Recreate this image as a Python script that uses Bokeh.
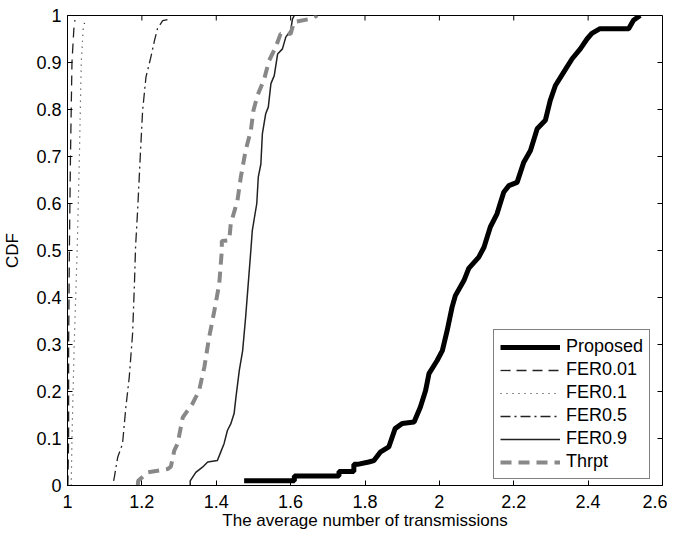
from bokeh.plotting import figure
from bokeh.models import (FixedTicker, Range1d, Legend, LegendItem,
                          NumeralTickFormatter)
from bokeh.embed import file_html
from bokeh.resources import INLINE

# ---------------- data ----------------
prop_x = [1.475, 1.61, 1.61, 1.73, 1.73, 1.77, 1.77, 1.78, 1.81, 1.824, 1.841, 1.864,
          1.881, 1.90, 1.932, 1.949, 1.963, 1.972, 1.994, 2.008, 2.021, 2.034, 2.043,
          2.066, 2.079, 2.106, 2.12, 2.137, 2.155, 2.173, 2.187, 2.209, 2.227, 2.245,
          2.263, 2.285, 2.298, 2.312, 2.334, 2.357, 2.379, 2.397, 2.41, 2.432, 2.509,
          2.522, 2.54]
prop_y = [0.01, 0.01, 0.02, 0.02, 0.03, 0.03, 0.045, 0.045, 0.05, 0.053, 0.071, 0.082,
          0.121, 0.132, 0.135, 0.167, 0.202, 0.238, 0.266, 0.287, 0.33, 0.379, 0.404,
          0.436, 0.462, 0.486, 0.507, 0.55, 0.578, 0.624, 0.638, 0.645, 0.688, 0.713,
          0.759, 0.777, 0.819, 0.851, 0.879, 0.908, 0.929, 0.95, 0.962, 0.972, 0.972,
          0.99, 1.0]

fer001_x = [1.001, 1.003, 1.003, 1.005, 1.008, 1.012, 1.017, 1.02]
fer001_y = [0.0, 0.1, 0.3, 0.5, 0.7, 0.9, 0.97, 0.99]

fer01_x = [1.01, 1.012, 1.018, 1.026, 1.032, 1.037, 1.042, 1.047]
fer01_y = [0.0, 0.1, 0.3, 0.5, 0.7, 0.9, 0.97, 0.99]

fer05_x = [1.124, 1.126, 1.135, 1.148, 1.157, 1.166, 1.175, 1.18, 1.183, 1.189, 1.196,
           1.202, 1.211, 1.224, 1.234, 1.242, 1.256, 1.278]
fer05_y = [0.01, 0.018, 0.06, 0.089, 0.167, 0.23, 0.323, 0.429, 0.507, 0.592, 0.706,
           0.798, 0.869, 0.911, 0.947, 0.972, 0.989, 0.993]

fer09_x = [1.33, 1.33, 1.345, 1.363, 1.377, 1.403, 1.412, 1.421, 1.43, 1.439, 1.448,
           1.453, 1.462, 1.471, 1.479, 1.486, 1.493, 1.497, 1.509, 1.513, 1.52, 1.524,
           1.533, 1.54, 1.547, 1.556, 1.565, 1.578, 1.587, 1.60, 1.605, 1.61]
fer09_y = [0.0, 0.01, 0.028, 0.039, 0.05, 0.053, 0.071, 0.089, 0.117, 0.131, 0.153,
           0.188, 0.245, 0.287, 0.358, 0.429, 0.50, 0.543, 0.6, 0.656, 0.684, 0.748,
           0.791, 0.805, 0.855, 0.872, 0.918, 0.929, 0.954, 0.968, 0.993, 1.0]

thr_x = [1.189, 1.19, 1.216, 1.269, 1.278, 1.287, 1.296, 1.31, 1.336, 1.354, 1.368,
         1.381, 1.395, 1.408, 1.415, 1.415, 1.435, 1.439, 1.457, 1.466, 1.479, 1.493,
         1.50, 1.511, 1.529, 1.542, 1.56, 1.573, 1.60, 1.609, 1.654, 1.672]
thr_y = [0.0, 0.01, 0.028, 0.035, 0.04, 0.074, 0.089, 0.145, 0.174, 0.202, 0.252,
         0.316, 0.372, 0.429, 0.50, 0.52, 0.522, 0.557, 0.606, 0.656, 0.713, 0.755,
         0.798, 0.83, 0.865, 0.904, 0.933, 0.961, 0.961, 0.986, 0.993, 1.0]

x_ticks = [1.0, 1.2, 1.4, 1.6, 1.8, 2.0, 2.2, 2.4, 2.6]
y_ticks = [0.0, 0.1, 0.2, 0.3, 0.4, 0.5, 0.6, 0.7, 0.8, 0.9, 1.0]
x_label = "The average number of transmissions"
y_label = "CDF"

FONT = "Liberation Sans"
TICK_FS = "18px"
LABEL_FS = "17px"

p = figure(frame_width=595, frame_height=470,
           x_range=Range1d(1, 2.6), y_range=Range1d(0, 1),
           output_backend="svg", toolbar_location=None,
           min_border_left=66, min_border_right=5, min_border_top=15, min_border_bottom=42)
p.xgrid.visible = False
p.ygrid.visible = False
p.outline_line_color = "black"
p.outline_line_width = 1
p.background_fill_color = "white"
p.border_fill_color = "white"


def style_axis(ax, ticks):
    ax.ticker = FixedTicker(ticks=ticks)
    ax.formatter = NumeralTickFormatter(format="0.[0]")
    ax.major_tick_in = 5
    ax.major_tick_out = 0
    ax.minor_tick_in = 0
    ax.minor_tick_out = 0
    ax.axis_line_color = "black"
    ax.major_tick_line_color = "black"
    ax.major_label_text_font = FONT
    ax.major_label_text_font_size = TICK_FS
    ax.major_label_text_color = "black"
    ax.axis_label_text_font = FONT
    ax.axis_label_text_font_size = LABEL_FS
    ax.axis_label_text_font_style = "normal"
    ax.axis_label_text_color = "black"


xa = p.xaxis[0]
style_axis(xa, x_ticks)
xa.major_label_standoff = 9
xa.axis_label = x_label
xa.axis_label_standoff = 0

ya = p.yaxis[0]
style_axis(ya, y_ticks)
ya.major_label_standoff = 6
ya.axis_label = y_label
ya.axis_label_standoff = 11

# inward ticks on the top and right edges of the box
p.ray(x=x_ticks, y=[p.y_range.end] * len(x_ticks), length=5, length_units="screen",
      angle=-90, angle_units="deg", line_color="black", line_width=1)
p.ray(x=[p.x_range.end] * len(y_ticks), y=y_ticks, length=5, length_units="screen",
      angle=180, angle_units="deg", line_color="black", line_width=1)

r_prop = p.line(prop_x, prop_y, line_color="black", line_width=5)
r_001 = p.line(fer001_x, fer001_y, line_color="#222222", line_width=1.3, line_dash="10 6")
r_01 = p.line(fer01_x, fer01_y, line_color="#222222", line_width=1.2, line_dash="1 5")
r_05 = p.line(fer05_x, fer05_y, line_color="#222222", line_width=1.3, line_dash="10 4 2 4")
r_09 = p.line(fer09_x, fer09_y, line_color="#222222", line_width=1.5)
r_thr = p.line(thr_x, thr_y, line_color="#888888", line_width=4, line_dash="11 7")

legend = Legend(items=[
    LegendItem(label="Proposed", renderers=[r_prop]),
    LegendItem(label="FER0.01", renderers=[r_001]),
    LegendItem(label="FER0.1", renderers=[r_01]),
    LegendItem(label="FER0.5", renderers=[r_05]),
    LegendItem(label="FER0.9", renderers=[r_09]),
    LegendItem(label="Thrpt", renderers=[r_thr]),
], location=(426, 6))
legend.border_line_color = "black"
legend.border_line_width = 1
legend.background_fill_color = "white"
legend.background_fill_alpha = 1
legend.label_text_font = FONT
legend.label_text_font_size = TICK_FS
legend.label_text_color = "black"
legend.padding = 6
legend.spacing = 2
legend.glyph_height = 20
legend.label_height = 20
legend.glyph_width = 60
legend.label_standoff = 6
legend.margin = 0
p.add_layout(legend)

open("out.html", "w").write(file_html(p, INLINE))
